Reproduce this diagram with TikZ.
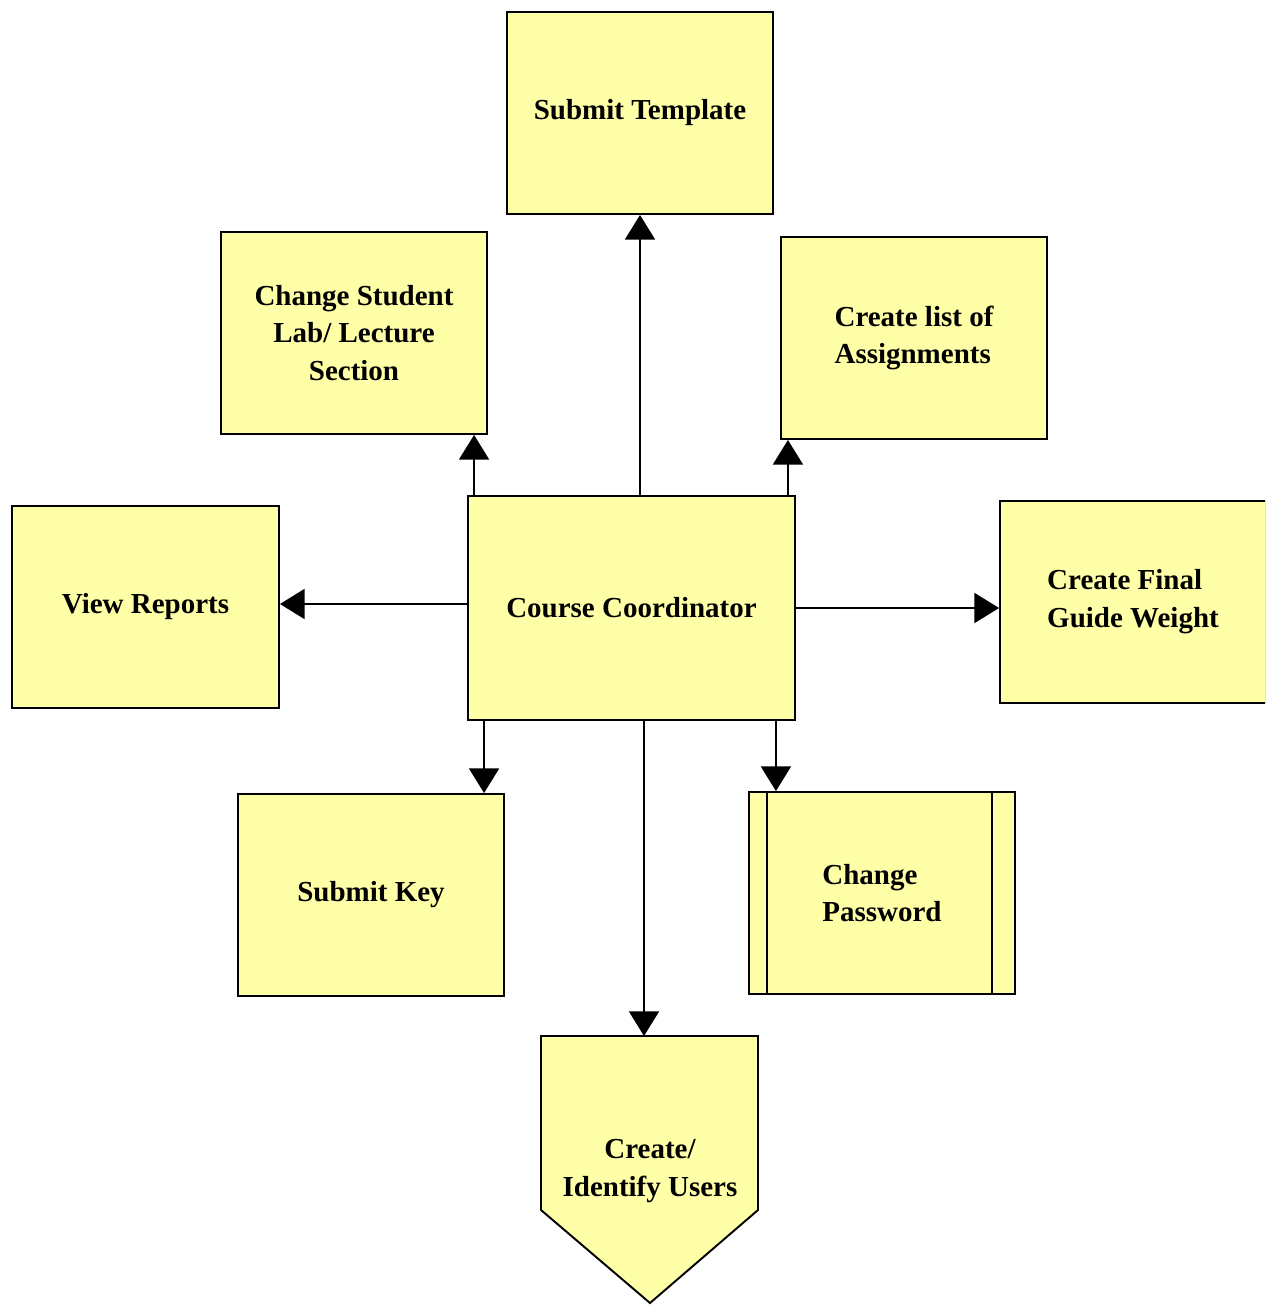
\documentclass[tikz,border=0pt]{standalone}
\usepackage{fontspec}
\setmainfont{Liberation Serif}
\usetikzlibrary{arrows.meta, calc}
\definecolor{ink}{HTML}{000000}
\definecolor{pad}{HTML}{FFFFA8}
\tikzset{
  font=\bfseries\fontsize{16.5}{21.5}\selectfont,
  >={Triangle[length=14pt, width=17pt]},
  %
  box/.style={
    draw=ink, line width=1.1pt, fill=pad, align=center, text=ink,
    minimum width=5.32cm, minimum height=4.04cm, inner sep=0pt,
  },
  boxl/.style={box, align=left},
  %
  flow/.style={draw=ink, line width=1.1pt, ->},
}
\begin{document}
\begin{tikzpicture}[x=0.02cm, y=-0.02cm]
  \clip (0,0) rectangle (1265,1305);
  \fill[white] (0,0) rectangle (1265,1305);

  % --- hub --------------------------------------------------------------
  \node[box, minimum width=6.54cm, minimum height=4.48cm] (cc) at (631.5,608)
    {Course Coordinator};

  % --- upper row --------------------------------------------------------
  \node[box] (tmpl) at (640,113) {Submit Template};
  \node[box] (lab)  at (354,333) {Change Student\\Lab/ Lecture\\Section};
  \node[boxl] (list) at (914,338) {Create list of\\Assignments};

  % --- sides ------------------------------------------------------------
  \node[box, minimum width=5.34cm] (view) at (145.5,607) {View Reports};
  \node[boxl] (final) at (1133,602) {Create Final\\Guide Weight};

  % --- lower row --------------------------------------------------------
  \node[box] (key) at (371,895) {Submit Key};
  \node[boxl] (cp) at (882,893) {Change\\Password};
  \draw[draw=ink, line width=1.1pt]
    ($(cp.north west)+(19,0)$) -- ($(cp.south west)+(19,0)$)
    ($(cp.north east)+(-24,0)$) -- ($(cp.south east)+(-24,0)$);

  % --- off-page user step -----------------------------------------------
  \filldraw[draw=ink, fill=pad, line width=1.1pt]
    (541,1036) -- (758,1036) -- (758,1210) -- (650,1303) -- (541,1210) -- cycle;
  \coordinate (utop) at (644,1036);
  \node[align=center] (users) at (650,1171) {Create/\\Identify Users};

  % --- arrows -----------------------------------------------------------
  \coordinate (labfoot)  at ($(cc.north west)+(7,0)$);
  \coordinate (listfoot) at ($(cc.north east)+(-8,0)$);
  \coordinate (viewfoot) at ($(cc.west)+(0,-4)$);
  \coordinate (keyfoot)  at ($(cc.south west)+(17,0)$);
  \coordinate (cpfoot)   at ($(cc.south east)+(-20,0)$);

  \draw[flow] (cc.north -| tmpl.south) -- (tmpl.south);
  \draw[flow] (labfoot) -- (labfoot |- lab.south);
  \draw[flow] (listfoot) -- (listfoot |- list.south);
  \draw[flow] (viewfoot) -- (viewfoot -| view.east);
  \draw[flow] (cc.east) -- (cc.east -| final.west);
  \draw[flow] (keyfoot) -- (keyfoot |- key.north);
  \draw[flow] (cpfoot) -- (cpfoot |- cp.north);
  \draw[flow] (cc.south -| utop) -- (utop);

\end{tikzpicture}
\end{document}
